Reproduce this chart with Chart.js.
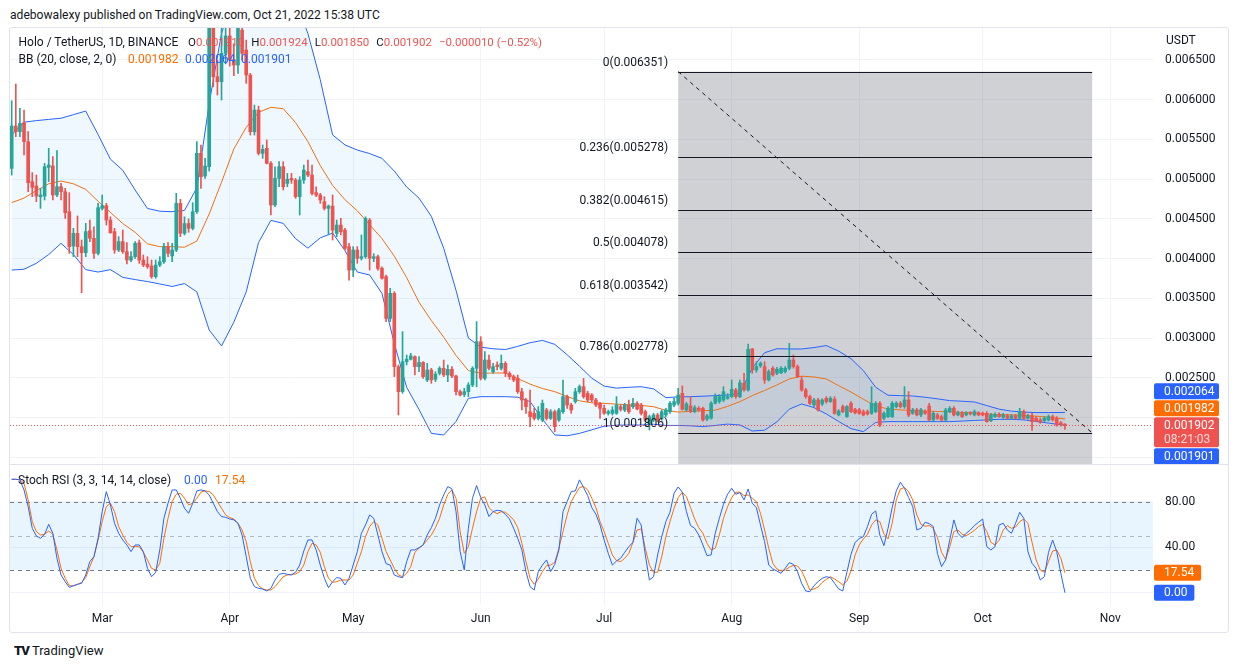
<!DOCTYPE html>
<html>
<head>
<meta charset="utf-8">
<title>Holo / TetherUS, 1D, BINANCE</title>
<script src="https://cdn.jsdelivr.net/npm/chart.js"></script>
<style>
  html, body { margin: 0; padding: 0; background: #fff; }
  body { width: 1235px; height: 668px; position: relative; overflow: hidden;
         font-family: Roboto, "Noto Sans", sans-serif; color: #131722; }
  .abs { position: absolute; white-space: nowrap; font-size: 12px; line-height: 16px; }
  .row { display: flex; gap: 7px; font-size: 11.5px; }
  #frame { position: absolute; left: 9px; top: 27px; width: 1220px; height: 606px;
           border: 1px solid #e0e3eb; border-radius: 3px; box-sizing: border-box; }
  #sep { position: absolute; left: 10px; top: 464px; width: 1218px; height: 1px; background: #e0e3eb; }
  canvas { position: absolute; }
  #mainCanvas { left: 10px; top: 28px; }
  #stochCanvas { left: 10px; top: 466px; }
</style>
</head>
<body>
<div id="frame"></div>
<canvas id="mainCanvas" width="1218" height="436"></canvas>
<div id="sep"></div>
<canvas id="stochCanvas" width="1218" height="166"></canvas>
<div class="abs" style="left:10px;top:7px;font-size:12.1px">adebowalexy published on TradingView.com, Oct 21, 2022 15:38 UTC</div>
<div class="abs" style="left:1166px;top:32px">USDT</div>
<div id="legend"></div>
<div class="abs" style="left:14px;top:643px;font-size:13px"><span style="font-weight:900;letter-spacing:-1px">TV</span> TradingView</div>

<script>
// day 0 = 2022-02-07, one candle per day
const monthStarts = [22, 53, 83, 114, 144, 175, 206, 236, 267];
const monthNames = ['Mar', 'Apr', 'May', 'Jun', 'Jul', 'Aug', 'Sep', 'Oct', 'Nov'];
const priceTicks = [0.0015, 0.002, 0.0025, 0.003, 0.0035, 0.004, 0.0045, 0.005, 0.0055, 0.006, 0.0065];
const stochTicks = [0, 40, 80];

const open = [
0.005134,0.005667,0.005596,0.005709,0.005470,0.004967,0.004912,0.004778,0.004786,0.005147,
0.005165,0.004799,0.004904,0.004841,0.004589,0.004157,0.004317,0.004149,0.004073,0.004350,
0.004254,0.004065,0.004631,0.004665,0.004484,0.004338,0.004107,0.004212,0.004086,0.003981,
0.004023,0.004199,0.003981,0.003931,0.003906,0.003772,0.003918,0.003960,0.004149,0.004032,
0.004107,0.004694,0.004317,0.004440,0.004380,0.004589,0.005323,0.005038,0.005155,0.006900,
0.006287,0.006224,0.006581,0.006800,0.006500,0.006434,0.006874,0.006623,0.006308,0.005595,
0.005868,0.005323,0.005386,0.005197,0.004673,0.005008,0.005155,0.004945,0.005008,0.004987,
0.004778,0.004987,0.005092,0.005050,0.004828,0.004799,0.004715,0.004631,0.004660,0.004316,
0.004421,0.004358,0.004149,0.003855,0.004107,0.004002,0.004023,0.004484,0.004002,0.004023,
0.003876,0.003772,0.003247,0.003562,0.002639,0.002325,0.002702,0.002733,0.002765,0.002639,
0.002692,0.002472,0.002598,0.002480,0.002556,0.002619,0.002535,0.002606,0.002522,0.002325,
0.002290,0.002325,0.002409,0.002619,0.002954,0.002493,0.002723,0.002577,0.002661,0.002619,
0.002682,0.002556,0.002513,0.002492,0.002325,0.002220,0.002073,0.002052,0.001989,0.001968,
0.002094,0.001989,0.002073,0.001968,0.002073,0.002262,0.002157,0.002200,0.002325,0.002388,
0.002304,0.002283,0.002220,0.002178,0.002115,0.002052,0.002052,0.002052,0.002136,0.002094,
0.002157,0.002136,0.002178,0.002157,0.002073,0.001905,0.001968,0.002031,0.001989,0.002031,
0.002073,0.002157,0.002178,0.002304,0.002095,0.002146,0.002074,0.002116,0.002116,0.001980,
0.001990,0.002179,0.002200,0.002220,0.002240,0.002262,0.002346,0.002262,0.002430,0.002346,
0.002862,0.002598,0.002650,0.002640,0.002472,0.002619,0.002556,0.002563,0.002577,0.002619,
0.002724,0.002640,0.002472,0.002346,0.002262,0.002158,0.002220,0.002170,0.002241,0.002200,
0.002230,0.002032,0.002137,0.002011,0.002179,0.002100,0.002095,0.002074,0.002074,0.002053,
0.002074,0.002179,0.001990,0.002011,0.002011,0.002137,0.002179,0.002137,0.002221,0.002053,
0.002095,0.002032,0.002074,0.002145,0.001969,0.002032,0.002011,0.001969,0.002074,0.002116,
0.002032,0.002060,0.002032,0.002060,0.002032,0.002060,0.002053,0.002053,0.001960,0.002011,
0.002040,0.002003,0.002024,0.001990,0.002020,0.001990,0.002074,0.001990,0.002020,0.001990,
0.001969,0.001960,0.001969,0.002011,0.001990,0.001933,0.001910];

const high = [
0.005985,0.006195,0.005889,0.005868,0.005596,0.005080,0.005050,0.004883,0.005197,0.005386,
0.005281,0.005357,0.004946,0.004883,0.004828,0.004380,0.004535,0.004233,0.004443,0.004484,
0.004400,0.004694,0.004799,0.004694,0.004525,0.004380,0.004275,0.004359,0.004199,0.004086,
0.004212,0.004233,0.004044,0.004023,0.003981,0.003981,0.004023,0.004191,0.004199,0.004191,
0.004820,0.004745,0.004525,0.004500,0.004702,0.005470,0.005428,0.005260,0.007000,0.007000,
0.006497,0.006916,0.007000,0.006900,0.006700,0.006916,0.006916,0.006748,0.006329,0.005931,
0.005918,0.005428,0.005491,0.005218,0.005155,0.005218,0.005218,0.005071,0.005071,0.005008,
0.005029,0.005176,0.005239,0.005176,0.004903,0.004820,0.004778,0.004673,0.004799,0.004484,
0.004505,0.004380,0.004191,0.004149,0.004150,0.004296,0.004525,0.004505,0.004060,0.004044,
0.003897,0.003793,0.003625,0.003583,0.002661,0.003080,0.002786,0.002807,0.002775,0.002765,
0.002702,0.002682,0.002619,0.002577,0.002639,0.002723,0.002661,0.002640,0.002535,0.002346,
0.002367,0.002438,0.002639,0.003206,0.003017,0.002828,0.002786,0.002682,0.002700,0.002786,
0.002702,0.002576,0.002534,0.002534,0.002367,0.002241,0.002346,0.002115,0.002136,0.002220,
0.002115,0.002100,0.002094,0.002115,0.002471,0.002283,0.002180,0.002367,0.002409,0.002492,
0.002330,0.002300,0.002240,0.002190,0.002157,0.002094,0.002136,0.002262,0.002160,0.002178,
0.002220,0.002241,0.002199,0.002178,0.002094,0.002031,0.002052,0.002052,0.002094,0.002115,
0.002199,0.002241,0.002367,0.002397,0.002190,0.002262,0.002150,0.002137,0.002130,0.002040,
0.002200,0.002300,0.002290,0.002388,0.002300,0.002472,0.002367,0.002472,0.002556,0.002925,
0.002870,0.002700,0.002700,0.002703,0.002600,0.002640,0.002630,0.002640,0.002640,0.002933,
0.002787,0.002660,0.002514,0.002367,0.002283,0.002241,0.002241,0.002235,0.002262,0.002262,
0.002262,0.002100,0.002158,0.002150,0.002200,0.002116,0.002116,0.002095,0.002095,0.002388,
0.002200,0.002200,0.002070,0.002137,0.002200,0.002200,0.002200,0.002388,0.002325,0.002116,
0.002116,0.002116,0.002095,0.002179,0.002074,0.002053,0.002032,0.002116,0.002137,0.002137,
0.002080,0.002074,0.002074,0.002074,0.002095,0.002074,0.002070,0.002074,0.002053,0.002060,
0.002060,0.002053,0.002040,0.002040,0.002040,0.002116,0.002095,0.002040,0.002053,0.002011,
0.001990,0.002011,0.002032,0.002032,0.002011,0.001948,0.001924];

const low = [
0.005050,0.005533,0.005533,0.005302,0.004841,0.004778,0.004715,0.004631,0.004736,0.004967,
0.004736,0.004778,0.004736,0.004505,0.004065,0.004023,0.004023,0.003570,0.004023,0.004212,
0.004002,0.004044,0.004610,0.004421,0.004317,0.004065,0.004086,0.004065,0.003931,0.003960,
0.004002,0.003939,0.003897,0.003876,0.003751,0.003751,0.003897,0.003939,0.004023,0.003960,
0.004086,0.004275,0.004296,0.004330,0.004360,0.004568,0.004883,0.005008,0.005100,0.006160,
0.006057,0.005994,0.006450,0.006420,0.006300,0.006329,0.006497,0.006203,0.005553,0.005553,
0.005302,0.005260,0.005190,0.004547,0.004652,0.004903,0.004862,0.004903,0.004945,0.004757,
0.004547,0.004945,0.005029,0.004799,0.004778,0.004694,0.004610,0.004296,0.004233,0.004275,
0.004296,0.004107,0.003729,0.003771,0.003940,0.003981,0.004002,0.003855,0.003960,0.003855,
0.003740,0.003206,0.003206,0.002514,0.002032,0.002304,0.002661,0.002723,0.002535,0.002577,
0.002493,0.002451,0.002430,0.002451,0.002535,0.002514,0.002451,0.002500,0.002283,0.002270,
0.002262,0.002262,0.002388,0.002388,0.002472,0.002472,0.002598,0.002556,0.002598,0.002598,
0.002514,0.002480,0.002451,0.002304,0.002094,0.002052,0.001884,0.001968,0.001968,0.001947,
0.001968,0.001975,0.001822,0.001950,0.002052,0.002115,0.002052,0.002180,0.002304,0.002241,
0.002199,0.002199,0.002136,0.001989,0.002040,0.002031,0.002031,0.002040,0.002080,0.002073,
0.002052,0.002115,0.002094,0.002031,0.001947,0.001843,0.001947,0.001947,0.001968,0.002010,
0.002052,0.002136,0.002157,0.002095,0.002080,0.002060,0.002060,0.002080,0.001955,0.001960,
0.001980,0.002170,0.002180,0.002200,0.002230,0.002250,0.002240,0.002250,0.002330,0.002330,
0.002556,0.002570,0.002630,0.002430,0.002460,0.002520,0.002540,0.002550,0.002560,0.002600,
0.002620,0.002500,0.002330,0.002241,0.002160,0.002137,0.002080,0.002150,0.002180,0.002190,
0.002040,0.002020,0.002060,0.002000,0.002060,0.002045,0.002040,0.002020,0.002030,0.002040,
0.002060,0.001885,0.001969,0.002000,0.002000,0.002120,0.002120,0.002116,0.002011,0.002040,
0.002020,0.002011,0.002040,0.001955,0.001955,0.001975,0.001955,0.001955,0.002060,0.002020,
0.002020,0.002000,0.002020,0.002030,0.002020,0.002020,0.002020,0.001940,0.001948,0.002000,
0.002000,0.001990,0.001980,0.001980,0.001980,0.001980,0.001975,0.001980,0.001836,0.001948,
0.001927,0.001948,0.001955,0.001955,0.001890,0.001890,0.001850];

const close = [
0.005667,0.005596,0.005700,0.005470,0.004954,0.004895,0.004786,0.004799,0.005155,0.005176,
0.004799,0.004904,0.004841,0.004577,0.004149,0.004317,0.004149,0.004073,0.004338,0.004254,
0.004065,0.004640,0.004665,0.004484,0.004325,0.004107,0.004212,0.004086,0.003981,0.004023,
0.004191,0.003981,0.003918,0.003897,0.003772,0.003918,0.003960,0.004149,0.004065,0.004107,
0.004694,0.004317,0.004440,0.004380,0.004589,0.005323,0.005029,0.005163,0.006900,0.006287,
0.006224,0.006581,0.006800,0.006500,0.006434,0.006895,0.006581,0.006308,0.005595,0.005868,
0.005323,0.005373,0.005197,0.004673,0.005008,0.005155,0.004903,0.004996,0.004987,0.004778,
0.004987,0.005113,0.005050,0.004820,0.004799,0.004736,0.004631,0.004660,0.004358,0.004421,
0.004337,0.004128,0.003855,0.004107,0.004002,0.004023,0.004505,0.004002,0.004023,0.003876,
0.003751,0.003247,0.003562,0.002639,0.002325,0.002702,0.002733,0.002775,0.002639,0.002692,
0.002514,0.002598,0.002472,0.002547,0.002619,0.002535,0.002606,0.002522,0.002325,0.002283,
0.002325,0.002409,0.002619,0.002954,0.002493,0.002723,0.002619,0.002639,0.002639,0.002682,
0.002556,0.002513,0.002471,0.002325,0.002220,0.002136,0.002010,0.001989,0.002073,0.002178,
0.001989,0.002073,0.001884,0.002094,0.002262,0.002157,0.002094,0.002325,0.002388,0.002262,
0.002220,0.002220,0.002157,0.002115,0.002052,0.002073,0.002094,0.002157,0.002102,0.002157,
0.002073,0.002178,0.002107,0.002052,0.001968,0.002010,0.002031,0.001968,0.002073,0.002094,
0.002178,0.002199,0.002283,0.002104,0.002170,0.002074,0.002125,0.002095,0.001969,0.002020,
0.002179,0.002262,0.002262,0.002325,0.002262,0.002355,0.002262,0.002437,0.002346,0.002858,
0.002598,0.002640,0.002682,0.002472,0.002577,0.002535,0.002606,0.002619,0.002619,0.002724,
0.002640,0.002514,0.002346,0.002262,0.002179,0.002220,0.002095,0.002220,0.002200,0.002241,
0.002053,0.002082,0.002074,0.002137,0.002074,0.002060,0.002053,0.002032,0.002045,0.002179,
0.002179,0.001906,0.002053,0.002116,0.002179,0.002179,0.002137,0.002221,0.002032,0.002095,
0.002032,0.002095,0.002053,0.001969,0.002053,0.001990,0.001969,0.002095,0.002116,0.002032,
0.002060,0.002011,0.002060,0.002045,0.002074,0.002032,0.002032,0.001948,0.002032,0.002040,
0.002011,0.002032,0.001990,0.002020,0.001990,0.002074,0.001990,0.002020,0.001948,0.001960,
0.001940,0.001990,0.002011,0.001969,0.001906,0.001912,0.001902];

// Bollinger Bands (20, close, 2) every few days
const bbDays = [
0,3,6,9,12,15,18,21,24,27,30,33,36,39,42,45,48,51,54,57,60,63,66,69,72,75,78,81,84,87,
90,93,96,99,102,105,108,111,114,117,120,123,126,129,132,135,138,141,144,147,150,153,156,159,
162,165,168,171,174,177,180,183,186,189,192,195,198,201,204,207,210,213,216,219,222,225,228,
231,234,237,240,243,246,249,252,256];
const bbUpper = [
0.005554,0.005715,0.005735,0.005750,0.005765,0.005810,0.005855,0.005560,0.005250,0.005110,
0.004862,0.004630,0.004595,0.004589,0.004605,0.004890,0.005950,0.006832,0.007300,0.007600,
0.007750,0.007750,0.007600,0.007250,0.006830,0.006250,0.005555,0.005430,0.005365,0.005320,
0.005260,0.005100,0.004900,0.004760,0.004530,0.004130,0.003600,0.003000,0.002885,0.002865,
0.002855,0.002895,0.002941,0.002970,0.002920,0.002790,0.002645,0.002495,0.002395,0.002370,
0.002380,0.002388,0.002360,0.002250,0.002260,0.002262,0.002268,0.002275,0.002282,0.002300,
0.002625,0.002815,0.002865,0.002862,0.002862,0.002880,0.002905,0.002835,0.002740,0.002590,
0.002380,0.002280,0.002275,0.002271,0.002255,0.002235,0.002212,0.002205,0.002195,0.002150,
0.002105,0.002080,0.002068,0.002062,0.002062,0.002064];
const bbBasis = [
0.004703,0.004760,0.004855,0.004940,0.004975,0.004940,0.004870,0.004720,0.004580,0.004440,
0.004330,0.004185,0.004149,0.004149,0.004142,0.004220,0.004560,0.004960,0.005380,0.005650,
0.005840,0.005902,0.005885,0.005710,0.005470,0.005170,0.004920,0.004740,0.004600,0.004425,
0.004250,0.004030,0.003760,0.003450,0.003220,0.003010,0.002780,0.002590,0.002556,0.002560,
0.002560,0.002490,0.002420,0.002365,0.002325,0.002265,0.002210,0.002185,0.002178,0.002168,
0.002160,0.002152,0.002136,0.002090,0.002068,0.002078,0.002085,0.002092,0.002140,0.002200,
0.002275,0.002340,0.002410,0.002485,0.002520,0.002510,0.002485,0.002400,0.002320,0.002230,
0.002145,0.002108,0.002095,0.002088,0.002082,0.002076,0.002070,0.002064,0.002058,0.002043,
0.002036,0.002033,0.002027,0.002016,0.002004,0.001982];
const bbLower = [
0.003855,0.003865,0.003940,0.004050,0.004191,0.004050,0.003860,0.003830,0.003860,0.003763,
0.003735,0.003710,0.003680,0.003648,0.003685,0.003580,0.003100,0.002900,0.003200,0.003580,
0.004200,0.004480,0.004442,0.004250,0.004130,0.004260,0.004320,0.004100,0.003830,0.003793,
0.003560,0.002930,0.002380,0.002100,0.001800,0.001780,0.001950,0.002240,0.002262,0.002262,
0.002262,0.002255,0.002200,0.001980,0.001780,0.001770,0.001800,0.001845,0.001890,0.001903,
0.001905,0.001905,0.001915,0.001900,0.001900,0.001895,0.001885,0.001900,0.001917,0.001906,
0.001830,0.001840,0.001945,0.002105,0.002170,0.002125,0.002045,0.001950,0.001860,0.001822,
0.001938,0.001948,0.001948,0.001948,0.001948,0.001948,0.001948,0.001955,0.001963,0.001970,
0.001977,0.001977,0.001970,0.001950,0.001930,0.001901];

// Stoch RSI (3, 3, 14, 14, close), one value per candle
const stochK = [
100,100,99.5,90.6,76,56.8,50,48,51.5,60.3,
52.4,30.3,15.6,9.7,4.7,6.2,7.4,8.3,15.6,27.4,
31.8,48,71.5,89.2,77.4,61.2,52.4,46.5,42.1,36.2,
42.1,42.1,36.2,21.5,14.1,18,37.7,65.6,78.9,90.6,
90.6,83.3,74.5,70,78.9,89.8,90.6,89.8,86.2,78.9,
71.5,67.1,66.5,65,64.2,61.2,50.9,31.8,12.7,5.3,
3.8,3.3,1.5,3.8,11.2,16.2,17.1,16.2,15.6,18,
24.4,36.8,46.5,46.5,37.7,24.4,12.7,4.4,9.7,13.3,
12.7,6.8,12.7,24.4,36.2,52.4,59.7,68.6,65.6,50.9,
36.2,25.6,24.4,15.6,14.1,13.3,27.4,37.7,37.7,39.7,
42.1,50.9,57.4,65.6,77.4,86.2,93.6,91.5,71.5,36.2,
20,56.8,83.3,94.5,83.9,77.4,67.1,71.5,72.7,72.1,
69.1,65,56.8,48,37.7,18.6,5.3,2.4,18.6,24.4,
28.9,18.6,25,37.7,71.5,80.3,89.2,89.8,99.5,92.7,
85.6,75,69.2,59.7,46.5,34.7,24.4,28,30.3,35.6,
40.6,44.4,65.6,59.7,33.3,11.2,14.1,33.3,49.4,62.7,
70.9,87.7,93.3,88.6,71.5,59.2,56.8,50.9,42.1,32.7,
33.3,52.4,65.6,78,86.8,92.1,86.8,88.3,81.8,91.5,
78.9,75,59.7,45,24.4,20.9,19.1,17.1,21.5,26.5,
25,18.6,8.3,1.5,0.9,6.2,9.7,12.7,14.1,13.3,
8.3,3.3,1.5,18,33.8,44.4,47.7,49.5,58.3,69.2,
72.1,50.9,41.5,56.8,75,89.8,97.4,92.1,83.9,75.9,
55.3,56.8,62.1,60.9,58.3,34.7,23,28.9,46.5,64.2,
52.4,48.6,52.4,55.3,59.2,62.1,65,40.6,37.7,40.6,
59.7,61.2,55.3,52.4,61.2,70.9,65.6,36.2,25.9,21.5,
11.2,14.1,35.6,46.5,36.2,17.1,0];
const stochD = [
100,100,99.5,96.5,81.8,62.7,53.9,50.9,51.5,54.4,
51.5,37.7,21.5,12.7,6.2,5.9,7.4,9.1,13.3,23,
31.8,46.5,62.7,75.9,78.9,71.5,58.3,50.9,44.4,40.6,
40.6,40.6,35.6,28.9,21.5,20,25.9,48,65.6,80.3,
86.8,87.7,83.3,77.4,78.9,83.3,88.6,89.8,89.2,86.2,
80.3,74.5,68.6,66.2,65,61.2,55.3,45,27.4,12.7,
6.2,3.3,2.4,2.4,5.3,9.7,14.1,15.6,16.2,16.5,
18.6,24.4,36.2,43.6,42.1,35.6,23,12.7,9.1,9.7,
11.2,11.2,11.2,15.6,25.9,36.2,49.4,58.3,62.7,59.7,
48,36.2,28.9,21.5,15.6,14.1,17.1,23,35.6,39.2,
42.1,46.5,50.9,57.4,65.6,77.4,86.8,90.6,83.3,53.9,
34.7,40.6,56.8,71.5,83.3,84.5,75,71.5,69.7,71.5,
70.9,68,64.2,57.4,43.6,27.4,12.7,7.4,12.1,18.6,
23.9,24.4,26.8,39.2,53.9,68.6,80.3,86.8,92.7,93.6,
90.6,83.3,75,62.7,53.9,43.6,33.3,28.3,27.4,30.3,
34.7,44.4,55.3,56.2,39.2,24.4,18,18,31.8,49.4,
62.7,74.5,83.9,88.6,84.7,75,65,57.4,52.4,43.6,
37.7,39.2,50.9,65.6,75.9,83.9,88.6,88.6,85.6,86.2,
83.3,80.3,70,55.3,39.2,25.9,20.9,19.1,20,22.4,
24.1,23.6,19.1,11.2,2.4,3.3,5,9.1,11.8,14.1,
12.1,9.7,6.8,10.3,19.1,33.3,42.1,47.4,51.5,59.7,
64.2,62.7,51.8,47.4,61.2,81.8,91.5,92.7,89.2,81.8,
68.6,60.3,58.6,59.2,56.8,48.6,35.6,29.4,40.6,53.9,
55.3,51.5,50.3,52.4,55,58.3,60.3,53.9,44.4,42.1,
46.2,55.3,59.2,56.8,58,62.7,65,61.2,44.4,28.9,
20,18,27.4,36.8,37.7,30.3,17.54];

// Fibonacci retracement drawn on the chart
const fibRatios = [0, 0.236, 0.382, 0.5, 0.618, 0.786, 1];
const fibPrices = [0.006351, 0.005278, 0.004615, 0.004078, 0.003542, 0.002778, 0.001806];
const fibFromDay = 162, fibToDay = 262.6;
const countdown = '08:21:03';

const UP = '#26a69a', DOWN = '#ef5350', BLUE = '#2962ff', ORANGE = '#ff6d00', GRID = '#f0f3fa', TEXT = '#131722';
const X_MIN = -0.41, X_MAX = 277.4;
const FONT = 'Roboto, "Noto Sans", sans-serif';

Chart.defaults.font.family = FONT;
Chart.defaults.font.size = 12;
Chart.defaults.color = TEXT;

function noPad(s) { s.paddingTop = 0; s.paddingBottom = 0; s.paddingLeft = 0; s.paddingRight = 0; }

function xScale(showLabels) {
    return {
        type: 'linear', min: X_MIN, max: X_MAX, offset: false,
        grid: { color: GRID, drawTicks: false, offset: false },
        border: { display: false },
        ticks: {
            display: showLabels, autoSkip: false, maxRotation: 0, padding: 7,
            callback: v => monthNames[monthStarts.indexOf(v)] || ''
        },
        afterBuildTicks: s => { s.ticks = monthStarts.map(v => ({ value: v })); },
        afterFit: s => { s.height = showLabels ? 27 : 0; noPad(s); }
    };
}

function badge(ctx, x, top, w, h, color, lines) {
    ctx.fillStyle = color;
    ctx.beginPath();
    ctx.roundRect(x, top, w, h, 2);
    ctx.fill();
    ctx.textAlign = 'left';
    ctx.textBaseline = 'middle';
    ctx.font = '12px ' + FONT;
    lines.forEach((l, i) => {
        ctx.fillStyle = i === 0 ? '#ffffff' : 'rgba(255,255,255,0.8)';
        ctx.fillText(l, x + 10, top + 8.5 + i * 14);
    });
}

const candleColor = c => close[c.dataIndex] >= open[c.dataIndex] ? UP : DOWN;
const bodies = close.map((c, i) => ({ x: i, y: [open[i], c] }));
const wicks = close.map((c, i) => ({ x: i, y: [low[i], high[i]] }));
const bbLine = arr => bbDays.map((d, i) => ({ x: d, y: arr[i] }));
const last = close.length - 1;

const fibPlugin = {
    id: 'fib',
    beforeDatasetsDraw(chart) {
        const { ctx, chartArea: a, scales: { x, y } } = chart;
        const x0 = x.getPixelForValue(fibFromDay), x1 = x.getPixelForValue(fibToDay);
        const top = y.getPixelForValue(fibPrices[0]);
        ctx.save();
        ctx.beginPath(); ctx.rect(a.left, a.top, a.width, a.height); ctx.clip();
        ctx.fillStyle = 'rgba(120,123,134,0.35)';
        ctx.fillRect(x0, top, x1 - x0, a.bottom - top);
        ctx.restore();
    },
    afterDatasetsDraw(chart) {
        const { ctx, chartArea: a, scales: { x, y } } = chart;
        const x0 = x.getPixelForValue(fibFromDay), x1 = x.getPixelForValue(fibToDay);
        ctx.save();
        ctx.beginPath(); ctx.rect(a.left, a.top, a.width, a.height); ctx.clip();
        ctx.strokeStyle = '#131722';
        ctx.lineWidth = 1.2;
        ctx.font = '12px ' + FONT;
        ctx.textAlign = 'right';
        ctx.textBaseline = 'middle';
        fibPrices.forEach((p, i) => {
            const py = Math.round(y.getPixelForValue(p)) + 0.5;
            ctx.beginPath(); ctx.moveTo(x0, py); ctx.lineTo(x1, py); ctx.stroke();
            ctx.fillStyle = TEXT;
            ctx.fillText(fibRatios[i] + '(' + p.toFixed(6) + ')', x0 - 10, py - 10);
        });
        ctx.setLineDash([4, 4]);
        ctx.lineWidth = 1;
        ctx.beginPath();
        ctx.moveTo(x0, y.getPixelForValue(fibPrices[0]));
        ctx.lineTo(x1, y.getPixelForValue(fibPrices[fibPrices.length - 1]));
        ctx.stroke();
        // last price line
        const ly = Math.round(y.getPixelForValue(close[last])) + 0.5;
        ctx.strokeStyle = DOWN;
        ctx.setLineDash([1, 2]);
        ctx.beginPath(); ctx.moveTo(a.left, ly); ctx.lineTo(a.right, ly); ctx.stroke();
        ctx.restore();
    },
    afterDraw(chart) {
        const { ctx, chartArea: a, scales: { y } } = chart;
        const bx = a.right + 1, bw = 65, h = 16;
        const priceTop = y.getPixelForValue(close[last]) - 8, priceH = 30;
        ctx.save();
        badge(ctx, bx, priceTop, bw, priceH, close[last] >= open[last] ? UP : DOWN,
              [close[last].toFixed(6), countdown]);
        // series labels above / below the price label, pushed apart like the platform does
        const others = [
            { v: bbUpper[bbUpper.length - 1], c: BLUE },
            { v: bbBasis[bbBasis.length - 1], c: ORANGE },
            { v: bbLower[bbLower.length - 1], c: BLUE }
        ];
        let edge = priceTop;
        others.filter(o => o.v > close[last]).sort((p, q) => p.v - q.v).forEach(o => {
            const t = Math.min(y.getPixelForValue(o.v) - h / 2, edge - h - 1);
            badge(ctx, bx, t, bw, h, o.c, [o.v.toFixed(6)]);
            edge = t;
        });
        edge = priceTop + priceH;
        others.filter(o => o.v <= close[last]).sort((p, q) => q.v - p.v).forEach(o => {
            const t = Math.max(y.getPixelForValue(o.v) - h / 2, edge + 1);
            badge(ctx, bx, t, bw, h, o.c, [o.v.toFixed(6)]);
            edge = t + h;
        });
        ctx.restore();
    }
};

new Chart(document.getElementById('mainCanvas'), {
    type: 'bar',
    data: {
        datasets: [
            { type: 'bar', data: bodies, backgroundColor: candleColor, barThickness: 3, minBarLength: 1,
              grouped: false, borderWidth: 0, order: 0 },
            { type: 'bar', data: wicks, backgroundColor: candleColor, barThickness: 1,
              grouped: false, borderWidth: 0, order: 1 },
            { type: 'line', data: bbLine(bbUpper), borderColor: BLUE, borderWidth: 1, pointRadius: 0,
              fill: '+2', backgroundColor: 'rgba(33,150,243,0.07)', order: 2 },
            { type: 'line', data: bbLine(bbBasis), borderColor: ORANGE, borderWidth: 1, pointRadius: 0,
              fill: false, order: 3 },
            { type: 'line', data: bbLine(bbLower), borderColor: BLUE, borderWidth: 1, pointRadius: 0,
              fill: false, order: 4 }
        ]
    },
    options: {
        responsive: false, animation: false, events: [],
        layout: { padding: 0 },
        plugins: { legend: { display: false }, tooltip: { enabled: false } },
        scales: {
            x: xScale(false),
            y: {
                position: 'right', min: 0.001415, max: 0.0069,
                grid: { color: GRID, drawTicks: false }, border: { display: false },
                ticks: { padding: 12, callback: v => (v < 0.00249 ? '' : v.toFixed(6)) },
                afterBuildTicks: s => { s.ticks = priceTicks.map(v => ({ value: v })); },
                afterFit: s => { s.width = 75; noPad(s); }
            }
        }
    },
    plugins: [fibPlugin]
});

const stochPlugin = {
    id: 'stochBand',
    beforeDatasetsDraw(chart) {
        const { ctx, chartArea: a, scales: { y } } = chart;
        const y80 = y.getPixelForValue(80), y50 = y.getPixelForValue(50), y20 = y.getPixelForValue(20);
        ctx.save();
        ctx.fillStyle = 'rgba(33,150,243,0.1)';
        ctx.fillRect(a.left, y80, a.width, y20 - y80);
        ctx.setLineDash([4, 4]);
        ctx.lineWidth = 1;
        [[y80, '#787b86'], [y50, 'rgba(120,123,134,0.5)'], [y20, '#787b86']].forEach(([py, c]) => {
            ctx.strokeStyle = c;
            ctx.beginPath(); ctx.moveTo(a.left, Math.round(py) + 0.5); ctx.lineTo(a.right, Math.round(py) + 0.5); ctx.stroke();
        });
        ctx.restore();
    },
    afterDraw(chart) {
        const { ctx, chartArea: a, scales: { y } } = chart;
        ctx.save();
        ctx.font = '12px ' + FONT;
        [[stochD[stochD.length - 1], ORANGE], [stochK[stochK.length - 1], BLUE]].forEach(([v, c]) => {
            const t = v.toFixed(2);
            badge(ctx, a.right + 1, y.getPixelForValue(v) - 8, ctx.measureText(t).width + 17, 16, c, [t]);
        });
        ctx.restore();
    }
};

new Chart(document.getElementById('stochCanvas'), {
    type: 'line',
    data: {
        datasets: [
            { data: stochK.map((v, i) => ({ x: i, y: v })), borderColor: BLUE, borderWidth: 1, pointRadius: 0, order: 0 },
            { data: stochD.map((v, i) => ({ x: i, y: v })), borderColor: ORANGE, borderWidth: 1, pointRadius: 0, order: 1 }
        ]
    },
    options: {
        responsive: false, animation: false, events: [],
        layout: { padding: 0 },
        plugins: { legend: { display: false }, tooltip: { enabled: false } },
        scales: {
            x: xScale(true),
            y: {
                position: 'right', min: -10.85, max: 111.73,
                grid: { color: GRID, drawTicks: false }, border: { display: false },
                ticks: { padding: 12, callback: v => v.toFixed(2) },
                afterBuildTicks: s => { s.ticks = stochTicks.map(v => ({ value: v })); },
                afterFit: s => { s.width = 75; noPad(s); }
            }
        }
    },
    plugins: [stochPlugin]
});

// legends on top of the panes
const chg = close[last] - close[last - 1];
const sign = chg < 0 ? '\u2212' : '+';
const tone = s => '<span style="color:' + (chg < 0 ? DOWN : UP) + '">' + s + '</span>';
const colored = (c, s) => '<span style="color:' + c + '">' + s + '</span>';
const ohlc = [
    'O' + tone(open[last].toFixed(6)),
    'H' + tone(high[last].toFixed(6)),
    'L' + tone(low[last].toFixed(6)),
    'C' + tone(close[last].toFixed(6)),
    tone(sign + Math.abs(chg).toFixed(6) + ' (' + sign + Math.abs(chg / close[last - 1] * 100).toFixed(2) + '%)')
];
const legendItems = [
    [18.5, 34, 'Holo / TetherUS, 1D, BINANCE'],
    [188, 34, '<div class="row">' + ohlc.map(s => '<span>' + s + '</span>').join('') + '</div>'],
    [18.5, 51, 'BB (20, close, 2, 0)'],
    [128, 51, colored(ORANGE, bbBasis[bbBasis.length - 1].toFixed(6))],
    [185, 51, colored(BLUE, bbUpper[bbUpper.length - 1].toFixed(6))],
    [241, 51, colored(BLUE, bbLower[bbLower.length - 1].toFixed(6))],
    [18, 472, 'Stoch RSI (3, 3, 14, 14, close)'],
    [184, 472, colored(BLUE, stochK[last].toFixed(2))],
    [215, 472, colored(ORANGE, stochD[last].toFixed(2))]
];
document.getElementById('legend').innerHTML = legendItems
    .map(([lx, ly, html]) => '<div class="abs" style="left:' + lx + 'px;top:' + ly + 'px">' + html + '</div>')
    .join('');
</script>
</body>
</html>
